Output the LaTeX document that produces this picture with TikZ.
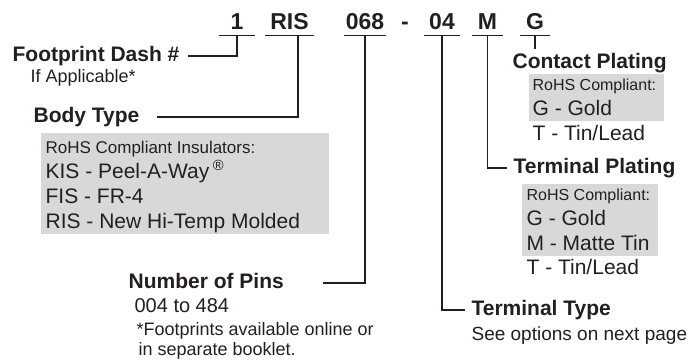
\documentclass[tikz,border=0pt]{standalone}
\usepackage{fontspec}
\setmainfont{Liberation Sans}
\usepackage{tikz}
\definecolor{boxgray}{RGB}{215,216,218}
\definecolor{ink}{RGB}{35,31,32}

\begin{document}
\begin{tikzpicture}[x=1pt,y=-1pt,line width=1.2pt,draw=ink,
  every node/.style={inner sep=0pt,text=ink},
  partcode/.style={font=\fontsize{23}{23}\selectfont\bfseries,anchor=base,text depth=6pt,minimum width=#1},
  head/.style={font=\fontsize{21}{21}\selectfont\bfseries,anchor=base west,text height=15pt,text depth=4pt},
  item/.style={font=\fontsize{21}{21}\selectfont,anchor=base west},
  rohs/.style={font=\fontsize{16}{16}\selectfont,anchor=base west},
  note/.style={font=\fontsize{18}{18}\selectfont,anchor=base west},
  shade/.style={fill=boxgray,anchor=north west}]

  \useasboundingbox (0,0) rectangle (696,360);

  % part number
  \node[partcode=34pt] (1) at (237,29) {1};
  \node[partcode=47pt] (RIS) at (289.5,29) {RIS};
  \node[partcode=40pt] (068) at (365,29) {068};
  \node[partcode=0pt] (dash) at (405,29) {-};
  \node[partcode=34pt] (04) at (442,29) {04};
  \node[partcode=29pt] (M) at (487.5,29) {M};
  \node[partcode=28pt] (G) at (535,29) {G};

  \draw (1.south west) -- (1.south east)
        (RIS.south west) -- (RIS.south east)
        (068.south west) -- (068.south east)
        (04.south west) -- (04.south east)
        (M.south west) -- (M.south east)
        (G.south west) -- (G.south east);

  % left side
  \node[head] (fp) at (12,61.5) {Footprint Dash \#};
  \node[note] (ifapp) at (30,82) {If Applicable*};

  \node[head] (body) at (33,122.5) {Body Type};
  \node[shade,minimum width=288pt,minimum height=101pt] (bodybox) at (40,132) {};
  \node[rohs,font=\fontsize{17}{17}\selectfont] (ins) at (45,153) {RoHS Compliant Insulators:};
  \node[item] (KIS) at (45,178) {KIS - Peel-A-Way\,\textsuperscript{®}};
  \node[item] (FIS) at (45,203) {FIS - FR-4};
  \node[item] (RISm) at (45,228) {RIS - New Hi-Temp Molded};

  \node[head] (pins) at (128,288.5) {Number of Pins};
  \node[item,font=\fontsize{20}{20}\selectfont] (range) at (134,312) {004 to 484};
  \node[note] (fn1) at (136,335) {*Footprints available online or};
  \node[note] (fn2) at (138,355) {in separate booklet.};

  % right side
  \node[head] (cp) at (512,68) {Contact Plating};
  \node[shade,minimum width=135pt,minimum height=47pt] (cpbox) at (528,73) {};
  \node[rohs] (cpr) at (532,90) {RoHS Compliant:};
  \node[item] (cpG) at (532,115) {G - Gold};
  \node[item] (cpT) at (532,140) {T - Tin/Lead};

  \node[head] (tp) at (513,173.5) {Terminal Plating};
  \node[shade,minimum width=136pt,minimum height=72pt] (tpbox) at (521,183) {};
  \node[rohs] (tpr) at (526,200) {RoHS Compliant:};
  \node[item] (tpG) at (526,225) {G - Gold};
  \node[item] (tpM) at (526,250) {M - Matte Tin};
  \node[item] (tpT) at (526,274) {T - Tin/Lead};

  \node[head] (tt) at (471,315.5) {Terminal Type};
  \node[note,font=\fontsize{19}{19}\selectfont] (see) at (471,340) {See options on next page};

  % leaders
  \draw (1.south) |- ([xshift=8pt]fp.east);
  \draw ([xshift=8.5pt]RIS.south) |- ([xshift=17pt]body.east);
  \draw (068.south) |- ([xshift=39pt]pins.east);
  \draw (04.south) |- ([xshift=-6pt]tt.west);
  \draw (M.south) |- ([xshift=-6pt]tp.west);
  \draw (G.south) -- ([yshift=3pt]G.south |- cp.north);
\end{tikzpicture}
\end{document}
